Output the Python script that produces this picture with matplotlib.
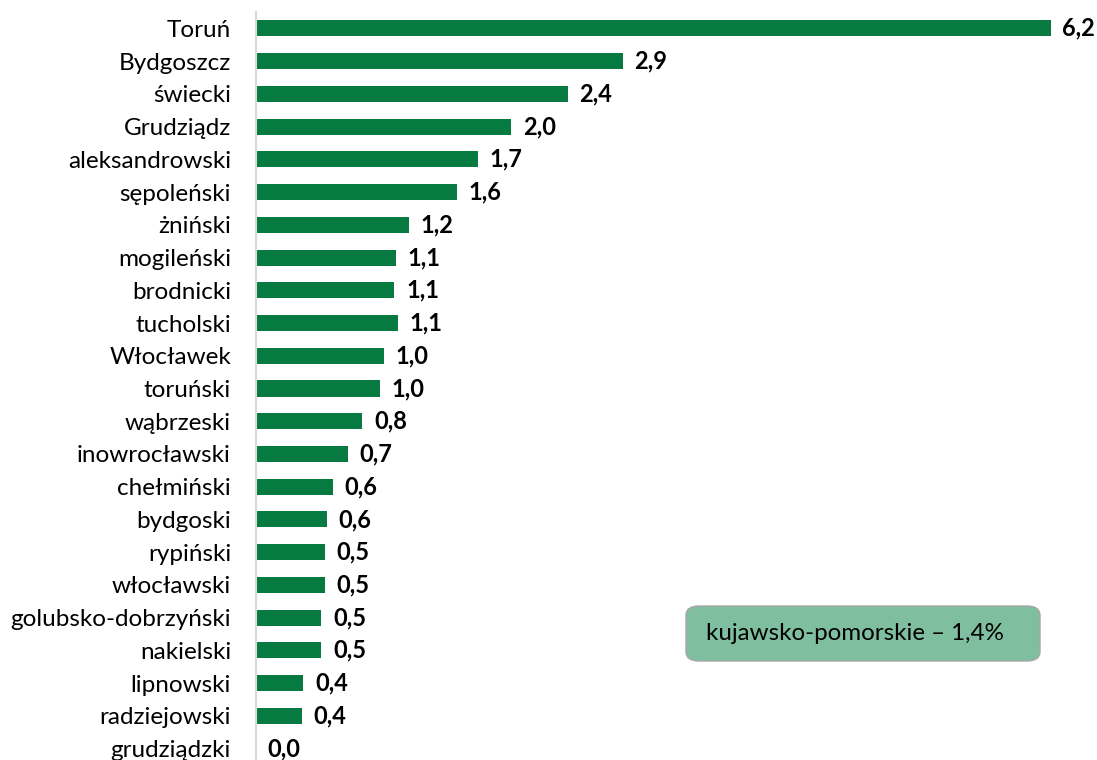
import matplotlib.pyplot as plt
from matplotlib.patches import FancyBboxPatch

# data (top to bottom)
regions = ["Toruń", "Bydgoszcz", "świecki", "Grudziądz", "aleksandrowski",
           "sępoleński", "żniński", "mogileński", "brodnicki", "tucholski",
           "Włocławek", "toruński", "wąbrzeski", "inowrocławski", "chełmiński",
           "bydgoski", "rypiński", "włocławski", "golubsko-dobrzyński",
           "nakielski", "lipnowski", "radziejowski", "grudziądzki"]
values = [6.2, 2.86, 2.43, 1.99, 1.73, 1.57, 1.19, 1.09, 1.08, 1.11,
          1.0, 0.97, 0.83, 0.72, 0.60, 0.55, 0.54, 0.54, 0.51, 0.51,
          0.37, 0.36, 0.0]
region_avg = 1.4

plt.rcParams['font.family'] = ['Lato', 'DejaVu Sans']

fig = plt.figure(figsize=(10.97, 7.6), dpi=100)
ax = fig.add_axes([256 / 1097, -5 / 760, 1 - 256 / 1097, 753 / 760])

pos = list(range(len(regions)))
ax.barh(pos, values, height=0.49, color="#077A42")
ax.set_ylim(len(regions) - 0.5, -0.5)
ax.set_xlim(0, (1097 - 256) / 128.2)

for y, v in zip(pos, values):
    ax.text(v + 0.09, y, f"{v:.1f}".replace(".", ","), va="center", ha="left",
            fontsize=17, fontweight="bold", color="black")

ax.set_yticks(pos)
ax.set_yticklabels(regions, fontsize=17.5)
ax.tick_params(axis="y", length=0, pad=18)
ax.set_xticks([])
for s in ["top", "right", "bottom"]:
    ax.spines[s].set_visible(False)
ax.spines["left"].set_color("#D9D9D9")
ax.spines["left"].set_linewidth(1.5)

# annotation box with the voivodeship average
box = FancyBboxPatch((686 / 1097, 1 - 661 / 760), 354 / 1097, 55 / 760,
                     boxstyle="round,pad=0,rounding_size=0.012",
                     transform=fig.transFigure, facecolor="#7FBF9F",
                     edgecolor="#A6A6A6", linewidth=1)
fig.patches.append(box)
fig.text(706 / 1097, 1 - 634 / 760,
         f"kujawsko-pomorskie – {region_avg:.1f}%".replace(".", ","),
         va="center", ha="left", fontsize=17.4, color="black")

fig.savefig("out.png", dpi=100)
